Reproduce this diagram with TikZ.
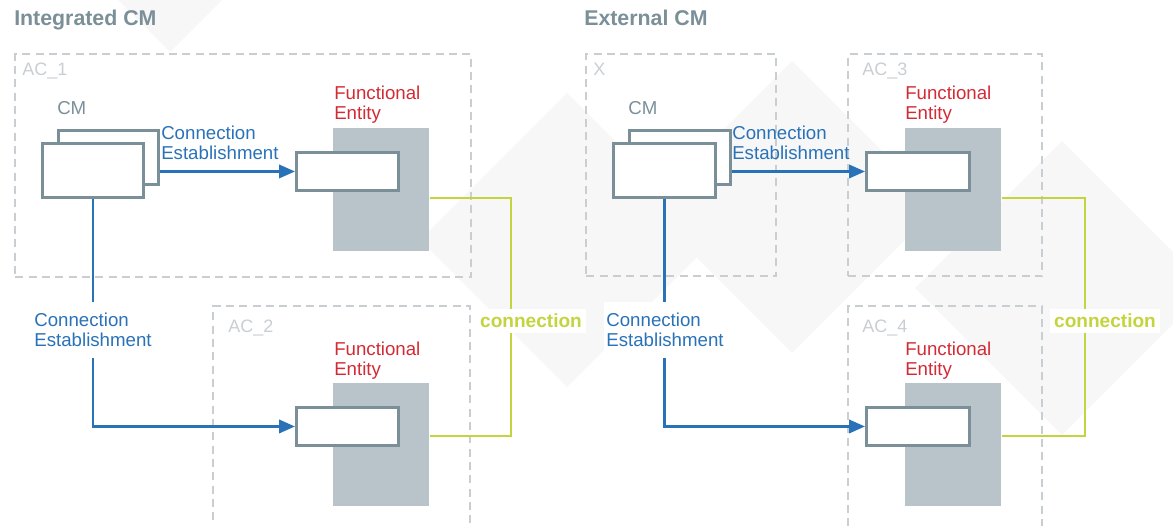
\documentclass[tikz,border=0pt]{standalone}
\usepackage{fontspec}
\setmainfont{Liberation Sans}
\usetikzlibrary{arrows.meta}
\definecolor{slate}{HTML}{7A8F98}
\definecolor{fegray}{HTML}{B9C4CA}
\definecolor{cblue}{HTML}{2A72B8}
\definecolor{fered}{HTML}{D32A35}
\definecolor{cgreen}{HTML}{C3D43E}
\definecolor{dashgray}{HTML}{C9CED2}
\definecolor{wm}{HTML}{F7F7F7}
\tikzset{
  sz/.style 2 args={minimum width={#1*0.75pt}, minimum height={#2*0.75pt}},
  dashbox/.style={draw=dashgray, line width=1.8pt, dash pattern=on 6pt off 4pt, anchor=north west, inner sep=0pt},
  cmbox/.style={draw=slate, line width=2.2pt, fill=white, anchor=north west, inner sep=0pt},
  febody/.style={fill=fegray, anchor=north west, inner sep=0pt},
  acl/.style={text=dashgray, anchor=north west, inner sep=0pt, font=\fontsize{13.5pt}{15pt}\selectfont},
  cml/.style={text=slate, anchor=north west, inner sep=0pt, font=\fontsize{14pt}{15pt}\selectfont},
  fel/.style={text=fered, anchor=north west, inner sep=0pt, align=left, font=\fontsize{14pt}{15pt}\selectfont},
  cel/.style={text=cblue, align=left, inner sep=0pt, font=\fontsize{14pt}{15pt}\selectfont},
  ttl/.style={text=slate, anchor=north west, inner sep=0pt, font=\bfseries\fontsize{16pt}{17pt}\selectfont},
  conl/.style={text=cgreen, fill=white, inner xsep=3pt, inner ysep=4pt, font=\bfseries\fontsize{14.3pt}{15pt}\selectfont},
  estab/.style={draw=cblue, line width=2pt, -{Triangle[length=12pt,width=10pt]}},
  conn/.style={draw=cgreen, line width=2pt},
}
\begin{document}
\begin{tikzpicture}[x=0.75pt,y=-0.75pt]
\useasboundingbox (0,0) rectangle (1173,525);
\clip (0,0) rectangle (1173,525);
% faint watermark
\fill[wm] (567,93) -- (714,240) -- (567,387) -- (420,240) -- cycle;
\fill[wm] (792,61) -- (938,207) -- (792,353) -- (646,207) -- cycle;
\fill[wm] (1062,141) -- (1209,288) -- (1062,435) -- (915,288) -- cycle;
\fill[wm] (170,-252) -- (322,-100) -- (170,52) -- (18,-100) -- cycle;
% ---------- titles ----------
\node[ttl] (t1) at (14,10) {Integrated CM};
\node[ttl] (t2) at (584,10) {External CM};
% ---------- left panel ----------
\node[dashbox, sz={456}{223}] (ac1) at (14,53) {};
\node[dashbox, sz={257}{240}] (ac2) at (212,305) {};
\node[acl] (ac1l) at (22,63) {AC\_1};
\node[acl] (ac2l) at (228,320) {AC\_2};
\node[cml] (cml1) at (57,101) {CM};
\node[cmbox, sz={100}{54}] (cmb1) at (57,129) {};
\node[cmbox, sz={101}{54}] (cmf1) at (41,142) {};
\node[febody, sz={96}{123}] (feg1) at (333,128) {};
\node[cmbox, sz={102}{38}] (fei1) at (295,151) {};
\node[fel] (fel1) at (334,86) {Functional\\Entity};
\node[febody, sz={96}{123}] (feg2) at (333,383) {};
\node[cmbox, sz={102}{38}] (fei2) at (295,406) {};
\node[fel] (fel2) at (334,342) {Functional\\Entity};
\node[cel, anchor=north west] (ce1) at (161,126) {Connection\\Establishment};
\draw[estab] (cmb1.east |- fei1.west) -- (fei1.west);
\coordinate (bend1) at (cmf1.south |- fei2.west);
\draw[estab] (cmf1.south) -- (bend1) -- (fei2.west);
\node[cel, fill=white, inner xsep=2pt, inner ysep=8pt] (ce2) at (93,330) {Connection\\Establishment};
\coordinate (g1a) at (511,198);
\coordinate (g1b) at (511,436);
\draw[conn] (feg1.east |- g1a) -- (g1a) -- (g1b) -- (feg2.east |- g1b);
\node[conl] (con1) at (531,321) {connection};
% ---------- right panel ----------
\node[dashbox, sz={190}{222}] (xb) at (585,53) {};
\node[dashbox, sz={194}{222}] (ac3) at (847,53) {};
\node[dashbox, sz={194}{240}] (ac4) at (847,305) {};
\node[acl] (xl) at (593,63) {X};
\node[acl] (ac3l) at (862,63) {AC\_3};
\node[acl] (ac4l) at (862,320) {AC\_4};
\node[cml] (cml2) at (628,101) {CM};
\node[cmbox, sz={101}{54}] (cmb2) at (628,129) {};
\node[cmbox, sz={102}{54}] (cmf2) at (612,142) {};
\node[febody, sz={96}{123}] (feg3) at (905,128) {};
\node[cmbox, sz={103}{38}] (fei3) at (865,151) {};
\node[fel] (fel3) at (905,86) {Functional\\Entity};
\node[febody, sz={96}{123}] (feg4) at (905,383) {};
\node[cmbox, sz={103}{38}] (fei4) at (865,406) {};
\node[fel] (fel4) at (905,342) {Functional\\Entity};
\node[cel, anchor=north west] (ce3) at (732,126) {Connection\\Establishment};
\draw[estab] (cmb2.east |- fei3.west) -- (fei3.west);
\coordinate (bend2) at (cmf2.south |- fei4.west);
\draw[estab] (cmf2.south) -- (bend2) -- (fei4.west);
\node[cel, fill=white, inner xsep=2pt, inner ysep=8pt] (ce4) at (665,330) {Connection\\Establishment};
\coordinate (g2a) at (1085,198);
\coordinate (g2b) at (1085,436);
\draw[conn] (feg3.east |- g2a) -- (g2a) -- (g2b) -- (feg4.east |- g2b);
\node[conl] (con2) at (1105,321) {connection};
\end{tikzpicture}
\end{document}
